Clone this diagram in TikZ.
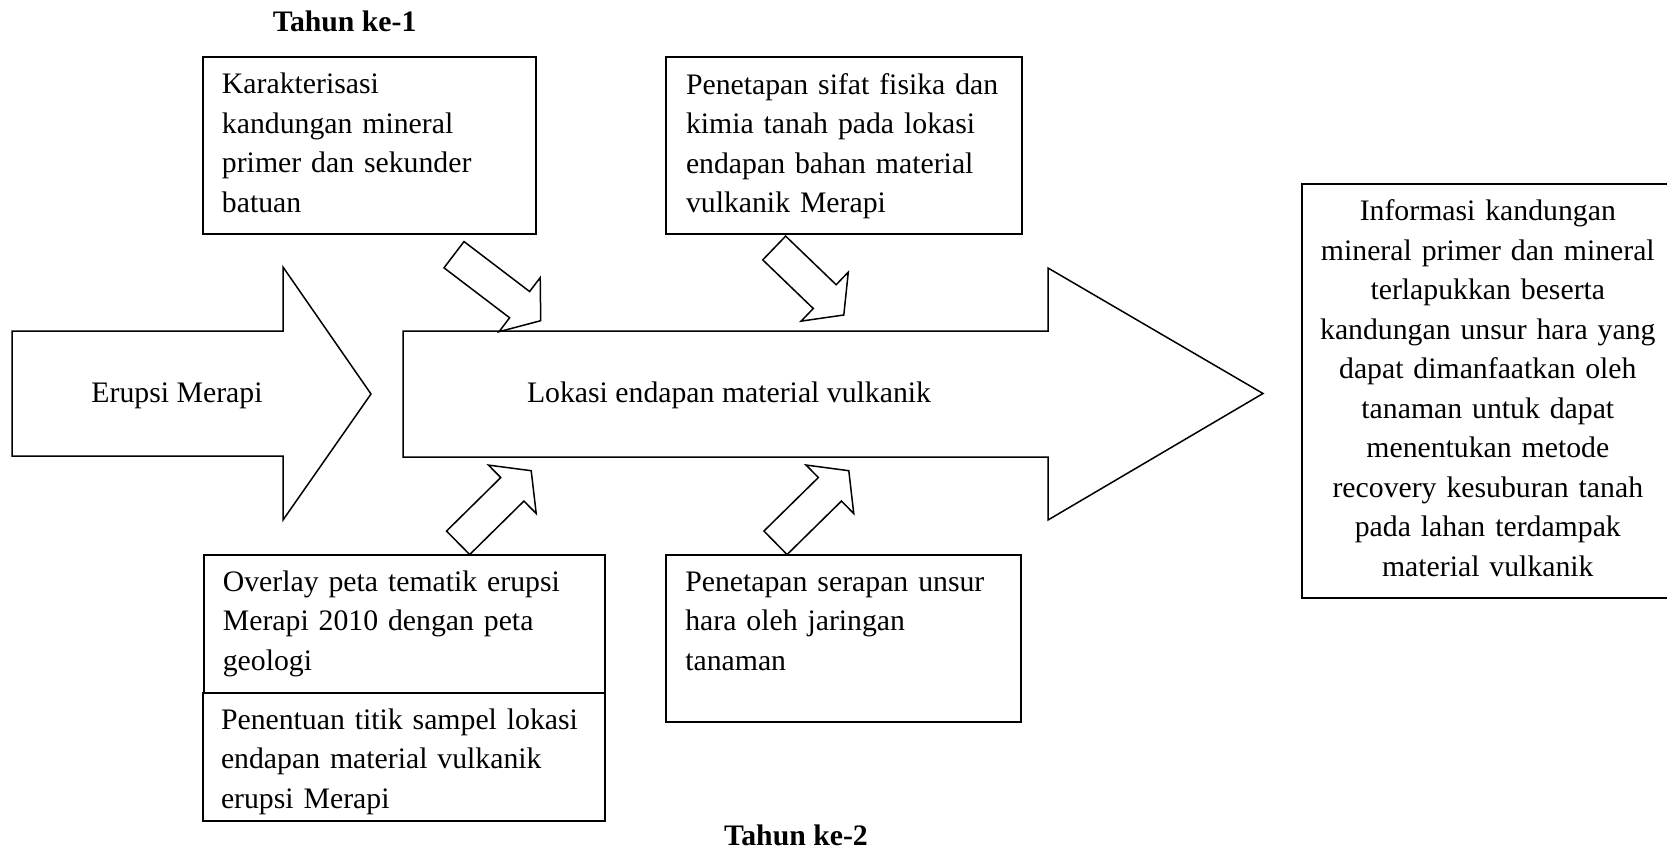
\documentclass[tikz,border=0pt]{standalone}
\usepackage{fontspec}
\setmainfont{Liberation Serif}
\usetikzlibrary{calc}
\tikzset{
  kegiatanBox/.style={
    draw,
    line width=0.8pt,
    rectangle,
    anchor=north west,
    align=left,
    inner ysep=0pt,
    font={\fontsize{11.9pt}{15.8pt}\selectfont}
  },
  hasilBox/.style={kegiatanBox, align=center},
  tahunLabel/.style={
    anchor=base,
    inner sep=0pt,
    font={\fontsize{11.9pt}{15.8pt}\selectfont\bfseries}
  },
  arrowText/.style={
    anchor=base,
    inner sep=0pt,
    font={\fontsize{11.9pt}{15.8pt}\selectfont}
  },
  panahBesar/.style={draw, line width=0.6pt, line join=miter},
  panahKecil/.style={draw, line width=0.6pt, line join=miter}
}
\newcommand{\blokPanah}[2]{%
  \path ($(#2)!10.6pt!(#1)$) coordinate (leher);
  \draw[panahKecil] ($(#1)!6.6pt!90:(#2)$) -- ($(leher)!6.6pt!90:(#2)$)
    -- ($(leher)!13.6pt!90:(#2)$) -- (#2)
    -- ($(leher)!13.6pt!-90:(#2)$) -- ($(leher)!6.6pt!-90:(#2)$)
    -- ($(#1)!6.6pt!-90:(#2)$) -- cycle;
}

\begin{document}
\begin{tikzpicture}[x=0.4pt,y=-0.4pt]
  \useasboundingbox (0,0) rectangle (1667,853);

  \node[tahunLabel] (tahunSatu) at (344.7,31.7) {Tahun ke-1};
  \node[tahunLabel] (tahunDua) at (796,845) {Tahun ke-2};

  % panah besar
  \draw[panahBesar] (12,331) -- (283,331) -- (283,267) -- (371,394)
    -- (283,520) -- (283,456) -- (12,456) -- cycle;
  \node[arrowText] (erupsi) at (177,402) {Erupsi Merapi};
  \draw[panahBesar] (403,331) -- (1048,331) -- (1048,268) -- (1263,393.5)
    -- (1048,520) -- (1048,457) -- (403,457) -- cycle;
  \node[arrowText] (lokasi) at (729,402.7) {Lokasi endapan material vulkanik};

  % kotak atas
  \node[kegiatanBox, text width=117.9pt, inner xsep=7.7pt,
    text height=14.7pt, text depth=56.1pt]
    (karakterisasi) at (201.7,56)
    {Karakterisasi\\kandungan mineral\\primer dan sekunder\\batuan};
  \node[kegiatanBox, text width=126.3pt, inner xsep=8pt,
    text height=14.9pt, text depth=56pt]
    (sifat) at (665,56)
    {Penetapan sifat fisika dan\\kimia tanah pada lokasi\\endapan bahan material\\vulkanik Merapi};

  % kotak bawah
  \node[kegiatanBox, text width=145pt, inner xsep=7.7pt,
    text height=14.4pt, text depth=40.9pt]
    (overlay) at (202.6,554)
    {Overlay peta tematik erupsi\\Merapi 2010 dengan peta\\geologi};
  \node[kegiatanBox, text width=146.2pt, inner xsep=7.2pt,
    text height=14.4pt, text depth=36.7pt]
    (penentuan) at (202,692.3)
    {Penentuan titik sampel lokasi\\endapan material vulkanik\\erupsi Merapi};
  \node[kegiatanBox, text width=126.8pt, inner xsep=7.6pt,
    text height=14.4pt, text depth=52.4pt]
    (serapan) at (665.3,554)
    {Penetapan serapan unsur\\hara oleh jaringan\\tanaman};

  % hasil
  \node[hasilBox, text width=134.9pt, inner xsep=7pt,
    text height=14.9pt, text depth=150.7pt]
    (informasi) at (1300.7,182.7)
    {Informasi kandungan\\mineral primer dan mineral\\terlapukkan beserta\\kandungan unsur hara yang\\dapat dimanfaatkan oleh\\tanaman untuk dapat\\menentukan metode\\recovery kesuburan tanah\\pada lahan terdampak\\material vulkanik};

  % panah kecil
  \coordinate (karakA) at (454,254.7);
  \coordinate (karakB) at (540.7,320.7);
  \blokPanah{karakA}{karakB}
  \coordinate (sifatA) at (774.2,248);
  \coordinate (sifatB) at (843.8,315);
  \blokPanah{sifatA}{sifatB}
  \coordinate (overlayA) at (458.1,542.8);
  \coordinate (overlayB) at (531.2,470.7);
  \blokPanah{overlayA}{overlayB}
  \coordinate (serapanA) at (775.5,542.8);
  \coordinate (serapanB) at (848.8,470.7);
  \blokPanah{serapanA}{serapanB}
\end{tikzpicture}
\end{document}
